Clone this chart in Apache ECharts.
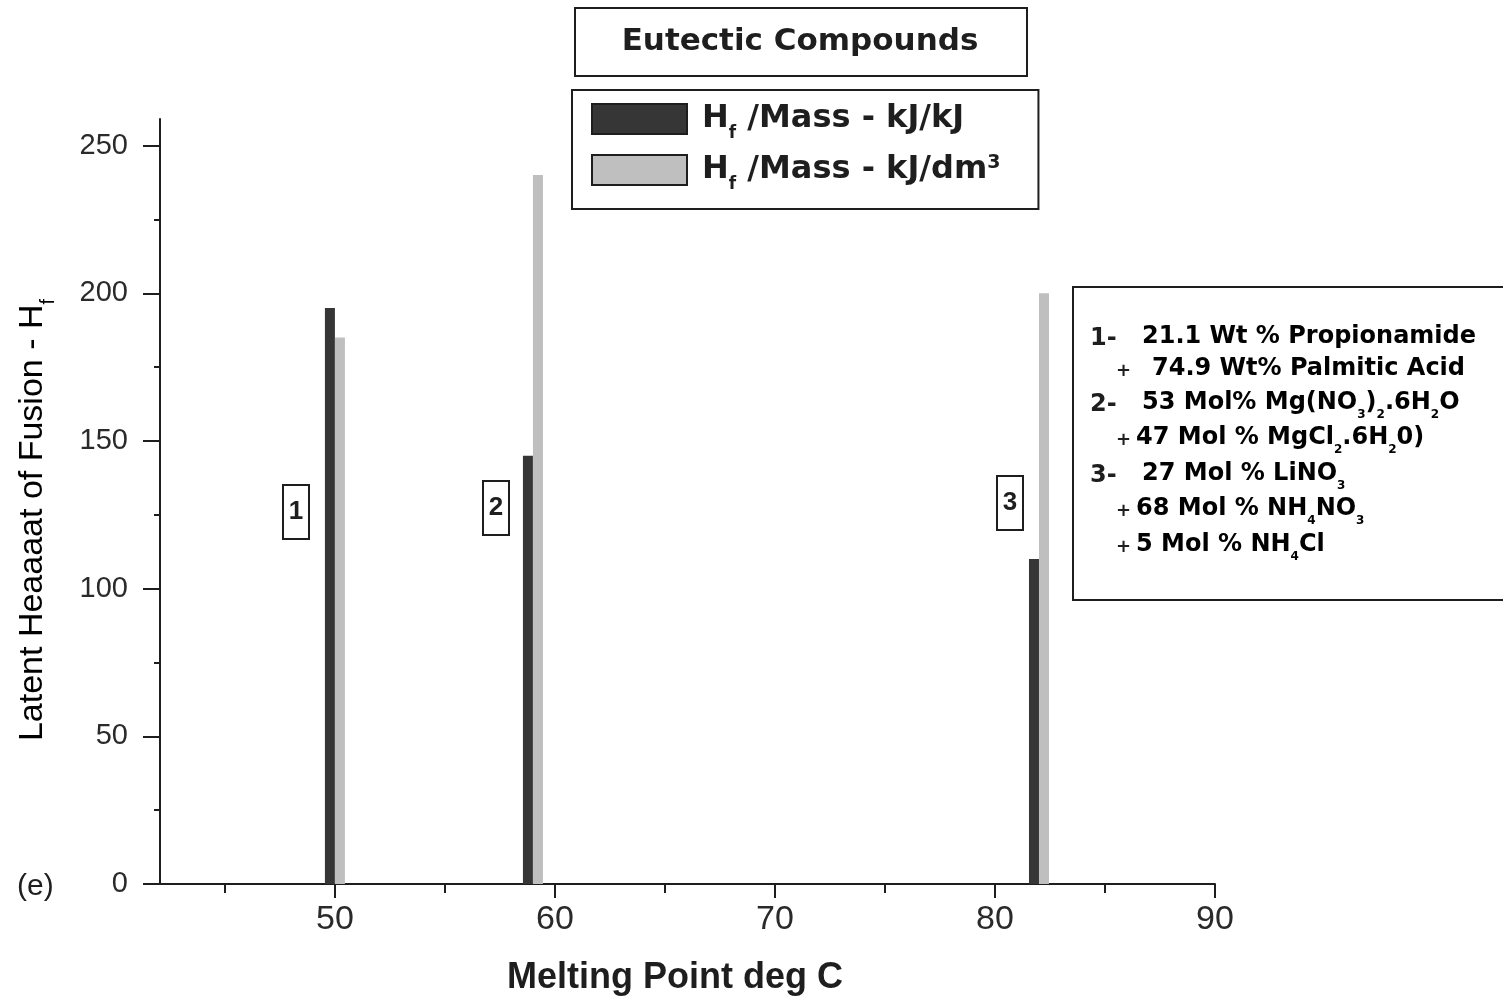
<!DOCTYPE html>
<html><head><meta charset="utf-8">
<script src="https://cdn.jsdelivr.net/npm/echarts@6/dist/echarts.min.js"></script>
<style>html,body{margin:0;padding:0;background:#fff}#c{width:1503px;height:997px}</style>
</head><body><div id="c"></div>
<script>
// ---- data ----
const meltingPoints = [50, 59, 82];
const compoundIds = ['1', '2', '3'];
const seriesNames = ['Hf /Mass - kJ/kJ', 'Hf /Mass - kJ/dm3'];
const hfPerMass = [195, 145, 110];
const hfPerVolume = [185, 240, 200];
const xMajorTicks = [50, 60, 70, 80, 90];
const xMinorTicks = [45, 55, 65, 75, 85];
const yMajorTicks = [0, 50, 100, 150, 200, 250];
const yMinorTicks = [25, 75, 125, 175, 225];
const titleText = 'Eutectic Compounds';
const xAxisTitle = 'Melting Point deg C';
const yAxisTitle = '{n|Latent Heaaaat of Fusion - H}{s|f}';
const panelTag = '(e)';
const legendLabels = ['{h|H}{s|f}{n| /Mass - kJ/kJ}', '{h|H}{s|f}{n| /Mass - kJ/dm}{p|3}'];
const notePrefixes = ['1-', '+', '2-', '+', '3-', '+', '+'];
const noteBodies = [
  '{n|21.1 Wt % Propionamide}',
  '{n|74.9 Wt% Palmitic Acid}',
  '{n|53 Mol% Mg(NO}{s|3}{n|)}{s|2}{n|.6H}{s|2}{n|O}',
  '{n|47 Mol % MgCl}{s|2}{n|.6H}{s|2}{n|0)}',
  '{n|27 Mol % LiNO}{s|3}',
  '{n|68 Mol % NH}{s|4}{n|NO}{s|3}',
  '{n|5 Mol % NH}{s|4}{n|Cl}'
];

// ---- layout / style ----
const DARK = '#363636', LIGHT = '#bfbfbf', INK = '#1e1e1e';
const noteY = [339, 371, 405, 440, 476, 511, 547];
const notePrefixX = [1090, 1116, 1090, 1116, 1090, 1116, 1116];
const noteBodyX = [1142, 1152, 1142, 1136, 1142, 1136, 1136];
const idBoxes = [[296, 512], [496, 508], [1010, 503]];

const chart = echarts.init(document.getElementById('c'), null, {renderer: 'canvas'});

const noteRich = {
  n: {fontFamily: 'DejaVu Sans', fontWeight: 'bold', fontSize: 24, lineHeight: 28, verticalAlign: 'top', color: INK},
  s: {fontFamily: 'DejaVu Sans', fontWeight: 'bold', fontSize: 12, lineHeight: 12, padding: [18, 0, 0, 0], verticalAlign: 'top', color: INK}
};

const graphics = [];
// title box
graphics.push({type: 'rect', shape: {x: 575, y: 8, width: 452, height: 68}, style: {fill: '#fff', stroke: INK, lineWidth: 2}, z: 10});
graphics.push({type: 'text', x: 800, y: 42, style: {text: titleText, font: 'bold 31px "DejaVu Sans"', fill: INK, align: 'center', verticalAlign: 'middle'}, z: 11});
// note box
graphics.push({type: 'rect', shape: {x: 1073, y: 287, width: 445, height: 313}, style: {fill: '#fff', stroke: INK, lineWidth: 2}, z: 10});
for (let i = 0; i < notePrefixes.length; i++) {
  const isPlus = notePrefixes[i] === '+';
  graphics.push({type: 'text', x: notePrefixX[i], y: noteY[i], style: {text: notePrefixes[i], font: 'bold ' + (isPlus ? 18 : 24) + 'px "DejaVu Sans"', fill: INK, align: 'left', verticalAlign: 'middle'}, z: 11});
  graphics.push({type: 'text', x: noteBodyX[i], y: noteY[i], style: {text: noteBodies[i], rich: noteRich, align: 'left', verticalAlign: 'middle'}, z: 11});
}
// compound id boxes
for (let i = 0; i < compoundIds.length; i++) {
  const [cx, cy] = idBoxes[i];
  graphics.push({type: 'rect', shape: {x: cx - 13, y: cy - 27, width: 26, height: 54}, style: {fill: '#fff', stroke: INK, lineWidth: 2}, z: 10});
  graphics.push({type: 'text', x: cx, y: cy, style: {text: compoundIds[i], font: 'bold 26px "Liberation Sans"', fill: INK, align: 'center', verticalAlign: 'middle'}, z: 11});
}
// axis titles
graphics.push({type: 'text', x: 675, y: 978, style: {text: xAxisTitle, font: 'bold 36px "Liberation Sans"', fill: INK, align: 'center', verticalAlign: 'middle'}});
graphics.push({type: 'text', x: 33, y: 520, rotation: Math.PI / 2, style: {
  text: yAxisTitle, align: 'center', verticalAlign: 'middle',
  rich: {
    n: {fontFamily: 'Liberation Sans', fontSize: 34, lineHeight: 34, verticalAlign: 'top', color: INK},
    s: {fontFamily: 'Liberation Sans', fontSize: 20, lineHeight: 20, padding: [22, 0, 0, 0], verticalAlign: 'top', color: INK}
  }}});
graphics.push({type: 'text', x: 17, y: 887, style: {text: panelTag, font: '30px "Liberation Sans"', fill: INK, align: 'left', verticalAlign: 'middle'}});

const axisLineStyle = {color: INK, width: 2};

chart.setOption({
  animation: false,
  backgroundColor: '#fff',
  grid: {left: 160, right: 288, top: 119, bottom: 113, containLabel: false, outerBoundsMode: 'none'},
  legend: {
    orient: 'vertical', left: 572, top: 90,
    padding: [13, 38, 16, 19],
    borderColor: INK, borderWidth: 2, backgroundColor: '#fff',
    itemWidth: 95, itemHeight: 30, itemGap: 12,
    selectedMode: false,
    data: [
      {name: seriesNames[0], icon: 'rect', itemStyle: {color: DARK, borderColor: INK, borderWidth: 2}},
      {name: seriesNames[1], icon: 'rect', itemStyle: {color: LIGHT, borderColor: INK, borderWidth: 2}}
    ],
    formatter: function (name) { return legendLabels[seriesNames.indexOf(name)]; },
    textStyle: {
      rich: {
        h: {fontFamily: 'DejaVu Sans', fontWeight: 'bold', fontSize: 32, lineHeight: 32, verticalAlign: 'top', color: INK, padding: [0, 0, 0, 10]},
        n: {fontFamily: 'DejaVu Sans', fontWeight: 'bold', fontSize: 32, lineHeight: 32, verticalAlign: 'top', color: INK},
        s: {fontFamily: 'DejaVu Sans', fontWeight: 'bold', fontSize: 17, lineHeight: 17, padding: [22, 0, 0, 0], verticalAlign: 'top', color: INK},
        p: {fontFamily: 'DejaVu Sans', fontWeight: 'bold', fontSize: 19, lineHeight: 19, verticalAlign: 'top', color: INK}
      }
    }
  },
  xAxis: [
    {
      type: 'value', min: 42.05, max: 90, position: 'bottom',
      axisLine: {show: true, onZero: false, lineStyle: axisLineStyle},
      axisTick: {show: true, customValues: xMajorTicks, length: 14, lineStyle: axisLineStyle},
      axisLabel: {customValues: xMajorTicks, fontFamily: 'Liberation Sans', fontSize: 34, color: '#2a2a2a', margin: 19},
      splitLine: {show: false}
    },
    {
      type: 'value', min: 42.05, max: 90, position: 'bottom',
      axisLine: {show: false, onZero: false},
      axisTick: {show: true, customValues: xMinorTicks, length: 9, lineStyle: axisLineStyle},
      axisLabel: {show: false},
      splitLine: {show: false}
    }
  ],
  yAxis: [
    {
      type: 'value', min: 0, max: 259, position: 'left',
      axisLine: {show: true, onZero: false, lineStyle: axisLineStyle},
      axisTick: {show: true, customValues: yMajorTicks, length: 17, lineStyle: axisLineStyle},
      axisLabel: {customValues: yMajorTicks, fontFamily: 'Liberation Sans', fontSize: 29, color: '#2a2a2a', margin: 32},
      splitLine: {show: false}
    },
    {
      type: 'value', min: 0, max: 259, position: 'left',
      axisLine: {show: false, onZero: false},
      axisTick: {show: true, customValues: yMinorTicks, length: 6, lineStyle: axisLineStyle},
      axisLabel: {show: false},
      splitLine: {show: false}
    }
  ],
  series: [
    {
      name: seriesNames[0], type: 'bar', xAxisIndex: 0, yAxisIndex: 0,
      barWidth: 10, barGap: '0%',
      itemStyle: {color: DARK},
      data: meltingPoints.map((m, i) => [m, hfPerMass[i]])
    },
    {
      name: seriesNames[1], type: 'bar', xAxisIndex: 0, yAxisIndex: 0,
      barWidth: 10, barGap: '0%',
      itemStyle: {color: LIGHT},
      data: meltingPoints.map((m, i) => [m, hfPerVolume[i]])
    }
  ],
  graphic: graphics
});
</script>
</body></html>
